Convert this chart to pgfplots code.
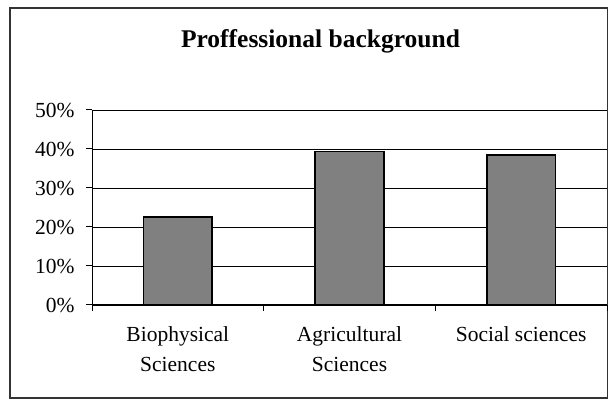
\documentclass[border=0pt]{standalone}
\usepackage{fontspec}
\setmainfont{Liberation Serif}
\usepackage{pgfplots}
\pgfplotsset{compat=1.18}
\begin{document}
\begin{tikzpicture}[x=1pt,y=1pt]
\useasboundingbox (0,0) rectangle (616,407);
\draw[line width=1.5pt, black!80] (10,9) rectangle (607.5,399);
\node[font=\bfseries\fontsize{25.5}{30}\selectfont] at (320.5,366) {Proffessional background};
\begin{axis}[
  at={(92pt,102pt)}, anchor=south west,
  scale only axis, width=515pt, height=195pt,
  xmin=-0.5, xmax=2.5, ymin=0, ymax=50,
  axis x line*=bottom, axis y line*=left,
  axis line style={line width=1pt, -},
  xtick={-0.5,0.5,1.5,2.5}, xticklabels={},
  extra x ticks={0,1,2},
  extra x tick labels={{Biophysical\\Sciences},{Agricultural\\Sciences},{Social sciences}},
  extra x tick style={major tick length=0pt, grid=none},
  xticklabel style={align=center, font=\fontsize{21.5}{30}\selectfont, anchor=north, yshift=-18pt},
  ytick={0,10,20,30,40,50},
  yticklabel={\pgfmathprintnumber{\tick}\%},
  yticklabel style={font=\fontsize{21.5}{25}\selectfont, xshift=-8pt},
  /pgf/number format/assume math mode=true,
  tick align=outside, major tick length=6pt,
  tick style={black, line width=1pt},
  ymajorgrids, major grid style={black, line width=0.9pt},
  xmajorgrids=false,
  bar width=0.4,
]
\addplot[ybar, fill=black!50, draw=black, line width=1.5pt] coordinates {(0,22.5) (1,39.3) (2,38.4)};
\end{axis}
\end{tikzpicture}
\end{document}
